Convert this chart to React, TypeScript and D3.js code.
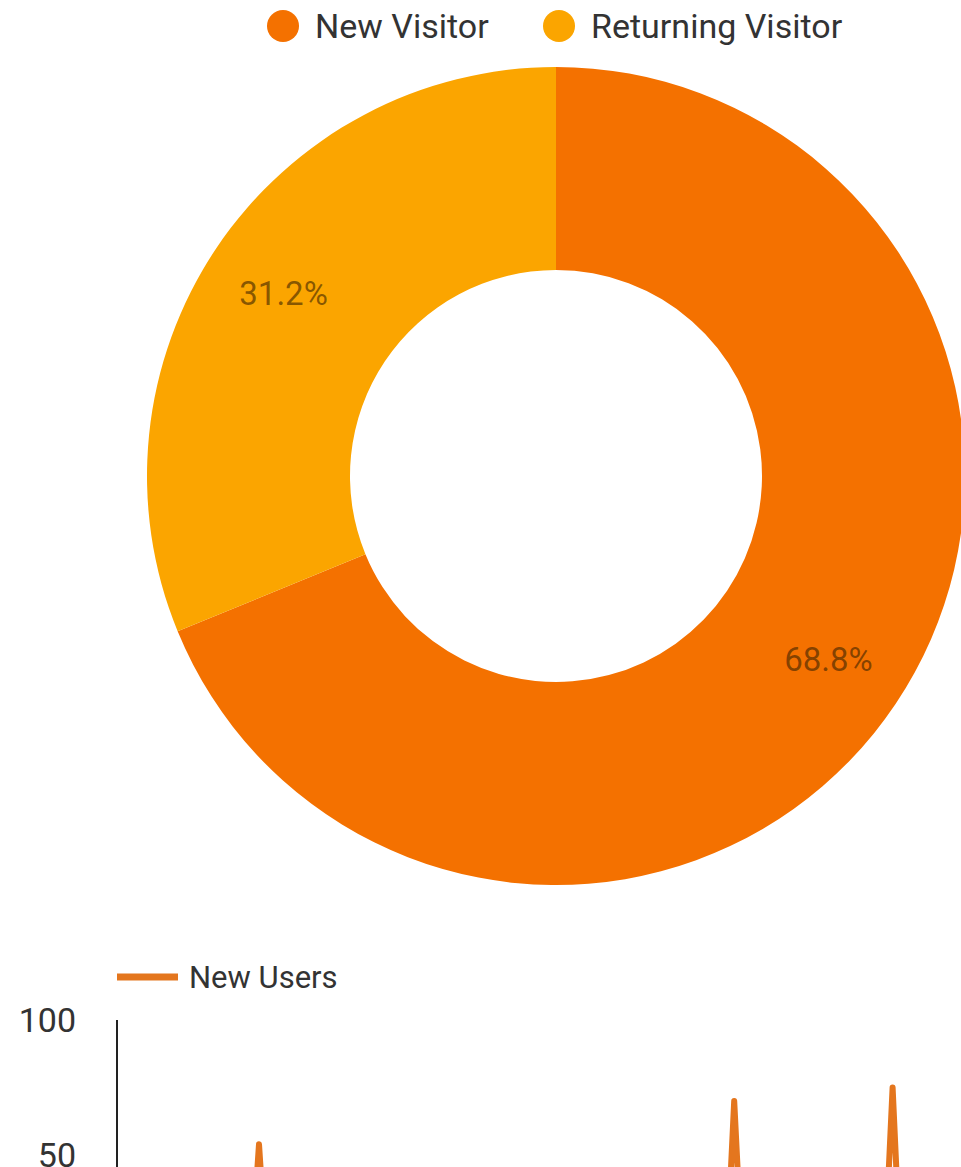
import React from "react";
import * as d3 from "d3";

const W = 961;
const H = 1167;

// Donut data
const visitorTypes = ["New Visitor", "Returning Visitor"];
const visitorShares = [68.8, 31.2];
const visitorColors = ["#F47100", "#FBA500"];

// Line chart data (daily new users, 91 days)
const newUsers = [
  3, 5, 2, 6, 4, 1, 7, 3, 5, 2,
  4, 6, 3, 2, 5, 54, 4, 3, 6, 2,
  5, 3, 7, 4, 2, 6, 3, 5, 4, 8,
  3, 2, 6, 4, 5, 3, 7, 2, 4, 6,
  3, 5, 2, 4, 6, 3, 5, 7, 2, 4,
  6, 3, 5, 4, 2, 7, 3, 6, 4, 5,
  3, 2, 6, 4, 5, 3, 7, 4, 2, 70,
  5, 3, 6, 4, 2, 5, 3, 7, 4, 6,
  3, 5, 2, 4, 6, 3, 5, 75, 4, 2,
  6,
];
const dayIndex = newUsers.map((_, i) => i);
const yTicks = [50, 100];
const lineLabel = "New Users";
const lineColor = "#E4761E";

export default function App() {
  const cx = 556;
  const cy = 476;
  const outerR = 409;
  const innerR = 206;

  const pie = d3
    .pie<number>()
    .sort(null)
    .value((d) => d)
    .startAngle(0)
    .endAngle(2 * Math.PI);
  const arcs = pie(visitorShares);
  const arcGen = d3.arc<d3.PieArcDatum<number>>().innerRadius(innerR).outerRadius(outerR);
  const labelArc = d3.arc<d3.PieArcDatum<number>>().innerRadius(328).outerRadius(328);

  // line chart scales
  const x = d3.scaleLinear().domain([0, dayIndex.length - 1]).range([127, 919]);
  const y = d3.scaleLinear().domain([0, 100]).range([1290, 1020]);
  const line = d3
    .line<number>()
    .x((_, i) => x(dayIndex[i]))
    .y((d) => y(d));

  const legendX = [283, 559];

  return (
    <svg
      width={W}
      height={H}
      style={{ position: "absolute", left: 0, top: 0, background: "#fff" }}
      fontFamily="Roboto, 'Noto Sans', sans-serif"
    >
      {/* Donut legend */}
      {visitorTypes.map((t, i) => (
        <g key={t}>
          <circle cx={legendX[i]} cy={26} r={16} fill={visitorColors[i]} />
          <text x={legendX[i] + 32} y={26} dy="0.36em" fontSize={34} fill="#333">
            {t}
          </text>
        </g>
      ))}

      {/* Donut */}
      <g transform={`translate(${cx},${cy})`}>
        {arcs.map((a, i) => (
          <path key={i} d={arcGen(a) || ""} fill={visitorColors[i]} />
        ))}
        {arcs.map((a, i) => {
          const [lx, ly] = labelArc.centroid(a);
          return (
            <text
              key={"l" + i}
              x={lx}
              y={ly}
              dy="0.36em"
              textAnchor="middle"
              fontSize={33}
              fill="#3a2200"
              fillOpacity={0.6}
            >
              {visitorShares[i].toFixed(1)}%
            </text>
          );
        })}
      </g>

      {/* Line chart legend */}
      <line x1={117} x2={178} y1={977} y2={977} stroke={lineColor} strokeWidth={7} />
      <text x={189} y={977} dy="0.36em" fontSize={31} fill="#333">
        {lineLabel}
      </text>

      {/* Y axis */}
      <line x1={117} x2={117} y1={y(100)} y2={y(0)} stroke="#222" strokeWidth={2} />
      {yTicks.map((t) => (
        <text key={t} x={76} y={y(t)} dy="0.36em" textAnchor="end" fontSize={34} fill="#333">
          {t}
        </text>
      ))}

      {/* Line */}
      <path
        d={line(newUsers) || ""}
        fill="none"
        stroke={lineColor}
        strokeWidth={6}
        strokeLinejoin="round"
      />
    </svg>
  );
}
